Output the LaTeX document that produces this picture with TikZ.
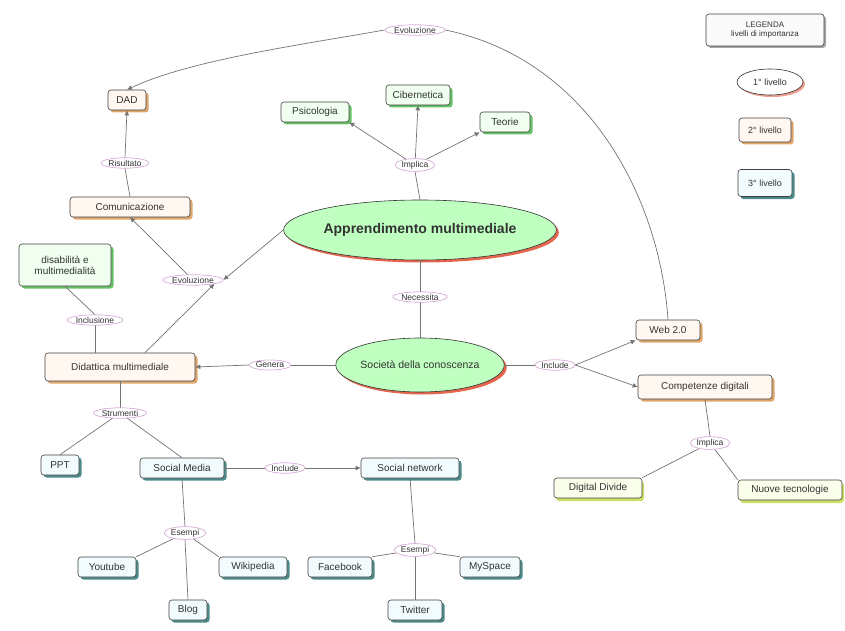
\documentclass[tikz,border=0pt]{standalone}
\usepackage{fontspec}
\setmainfont{Liberation Sans}
\usetikzlibrary{shapes.geometric,shadows,arrows.meta}
\begin{document}
\begin{tikzpicture}[x=1pt,y=-1pt,
  every node/.style={font=\fontsize{10}{11}\selectfont, text=black!80},
  base/.style={rectangle, rounded corners=3pt, draw=black!75, line width=0.6pt, inner sep=2pt, minimum height=20pt},
  orangebox/.style={base, fill=orange!6, drop shadow={shadow xshift=2.5pt, shadow yshift=-2.5pt, fill=brown!70!orange, opacity=0.7}},
  bluebox/.style={base, fill=cyan!5, drop shadow={shadow xshift=2.5pt, shadow yshift=-2.5pt, fill=teal!70!black, opacity=0.7}},
  greenbox/.style={base, fill=green!6, drop shadow={shadow xshift=2.5pt, shadow yshift=-2.5pt, fill=green!60!black, opacity=0.6}},
  ygbox/.style={base, fill=lime!8, drop shadow={shadow xshift=2pt, shadow yshift=-3pt, fill=lime!60!olive, opacity=0.6}},
  lvlone/.style={ellipse, draw=black!80, line width=0.6pt, fill=green!25, inner sep=0pt, drop shadow={shadow xshift=2.5pt, shadow yshift=-2.5pt, fill=red!50!brown, opacity=0.8}},
  lab/.style={ellipse, draw=violet!35, line width=0.5pt, fill=white, inner sep=0.5pt, font=\fontsize{8.5}{9}\selectfont},
  conn/.style={draw=black!55, line width=0.7pt},
  arr/.style={conn, -{Latex[length=5pt,width=5pt]}}
]
\useasboundingbox (0,0) rectangle (845,631);

% Legend
\node[base, fill=gray!4, align=center, minimum width=118pt, minimum height=32pt, drop shadow={shadow xshift=2pt, shadow yshift=-2pt, fill=black!70}, font=\fontsize{8}{9}\selectfont] (leg) at (765,30) {LEGENDA\\livelli di importanza};
\node[ellipse, draw=black!80, line width=0.6pt, fill=white, inner sep=0pt, minimum width=66pt, minimum height=26pt, drop shadow={shadow xshift=2pt, shadow yshift=-2pt, fill=red!50!brown}, font=\fontsize{9}{10}\selectfont] (l1) at (770,82) {1° livello};
\node[orangebox, minimum width=52pt, minimum height=24pt, font=\fontsize{9}{10}\selectfont] (l2) at (765,130) {2° livello};
\node[bluebox, minimum width=54pt, minimum height=27pt, font=\fontsize{9}{10}\selectfont] (l3) at (765,183) {3° livello};

% Level 1
\node[lvlone, minimum width=240pt, minimum height=60pt, font=\fontsize{14}{15}\bfseries\selectfont] (app) at (420,230) {Apprendimento multimediale};
\node[lvlone, minimum width=165pt, minimum height=54pt, font=\fontsize{10.5}{11}\selectfont] (soc) at (420,365) {Società della conoscenza};

% Labels
\node[lab] (evo1) at (415,30) {Evoluzione};
\node[lab] (ris) at (125,163) {Risultato};
\node[lab] (impl1) at (415,165) {Implica};
\node[lab] (evo2) at (193,280) {Evoluzione};
\node[lab] (inc0) at (95,320) {Inclusione};
\node[lab] (nec) at (420,297) {Necessita};
\node[lab] (gen) at (270,365) {Genera};
\node[lab] (inc1) at (555,365) {Include};
\node[lab] (impl2) at (710,443) {Implica};
\node[lab] (str) at (120,413) {Strumenti};
\node[lab] (inc2) at (285,468) {Include};
\node[lab] (es1) at (185,533) {Esempi};
\node[lab] (es2) at (415,550) {Esempi};

% Concepts
\node[orangebox, minimum width=38pt] (dad) at (127,100) {DAD};
\node[orangebox, minimum width=120pt] (com) at (130,207) {Comunicazione};
\node[greenbox, minimum width=68pt] (psi) at (315,112) {Psicologia};
\node[greenbox, minimum width=64pt] (cib) at (418,95) {Cibernetica};
\node[greenbox, minimum width=50pt] (teo) at (505,122) {Teorie};
\node[greenbox, align=center, minimum width=92pt, minimum height=42pt] (dis) at (65,265) {disabilità e\\multimedialità};
\node[orangebox, minimum width=150pt, minimum height=28pt] (did) at (120,367) {Didattica multimediale};
\node[orangebox, minimum width=64pt] (web) at (668,330) {Web 2.0};
\node[orangebox, minimum width=134pt, minimum height=24pt] (comp) at (705,387) {Competenze digitali};
\node[ygbox, minimum width=88pt] (dd) at (598,488) {Digital Divide};
\node[ygbox, minimum width=104pt] (nt) at (790,490) {Nuove tecnologie};
\node[bluebox, minimum width=38pt] (ppt) at (60,465) {PPT};
\node[bluebox, minimum width=84pt] (sm) at (182,468) {Social Media};
\node[bluebox, minimum width=98pt] (sn) at (410,468) {Social network};
\node[bluebox, minimum width=58pt] (yt) at (107,567) {Youtube};
\node[bluebox, minimum width=68pt] (wiki) at (253,567) {Wikipedia};
\node[bluebox, minimum width=38pt] (blog) at (188,610) {Blog};
\node[bluebox, minimum width=64pt] (fb) at (340,567) {Facebook};
\node[bluebox, minimum width=54pt] (tw) at (415,610) {Twitter};
\node[bluebox, minimum width=60pt] (ms) at (490,567) {MySpace};

% Connectors
\draw[conn] (web.north) .. controls (660,200) and (590,60) .. (evo1.east);
\draw[arr] (evo1.west) .. controls (300,45) and (190,60) .. (dad.north);
\draw[conn] (com.north) -- (ris.south);
\draw[arr] (ris.north) -- (dad.south);
\draw[conn] (app.north) -- (impl1.south);
\draw[arr] (impl1) -- (psi.south east);
\draw[arr] (impl1) -- (cib.south);
\draw[arr] (impl1) -- (teo.south west);
\draw[arr] (app.west) -- (evo2.east);
\draw[arr] (evo2) -- (com.south);
\draw[arr] (did.north) ++(25,0) -- (evo2.south east);
\draw[conn] (dis.south) -- (inc0.north);
\draw[conn] (inc0.south) -- (did.north -| inc0);
\draw[conn] (app.south) -- (nec.north);
\draw[conn] (nec.south) -- (soc.north);
\draw[conn] (soc.west) -- (gen.east);
\draw[arr] (gen.west) -- (did.east);
\draw[conn] (soc.east) -- (inc1.west);
\draw[arr] (inc1.east) -- (web.south west);
\draw[arr] (inc1.east) -- (comp.west);
\draw[conn] (comp.south) -- (impl2.north);
\draw[conn] (impl2) -- (dd.north east);
\draw[conn] (impl2) -- (nt.north west);
\draw[conn] (did.south) -- (str.north);
\draw[conn] (str) -- (ppt.north);
\draw[conn] (str) -- (sm.north);
\draw[conn] (sm.east) -- (inc2.west);
\draw[arr] (inc2.east) -- (sn.west);
\draw[conn] (sm.south) -- (es1.north);
\draw[conn] (es1) -- (yt.north east);
\draw[conn] (es1) -- (wiki.north west);
\draw[conn] (es1.south) -- (blog.north);
\draw[conn] (sn.south) -- (es2.north);
\draw[conn] (es2) -- (fb.north east);
\draw[conn] (es2) -- (ms.north west);
\draw[conn] (es2.south) -- (tw.north);

% redraw labels on top of lines
\foreach \n/\t in {evo1/Evoluzione,ris/Risultato,impl1/Implica,evo2/Evoluzione,inc0/Inclusione,nec/Necessita,gen/Genera,inc1/Include,impl2/Implica,str/Strumenti,inc2/Include,es1/Esempi,es2/Esempi}
  \node[lab] at (\n) {\t};
\end{tikzpicture}
\end{document}
